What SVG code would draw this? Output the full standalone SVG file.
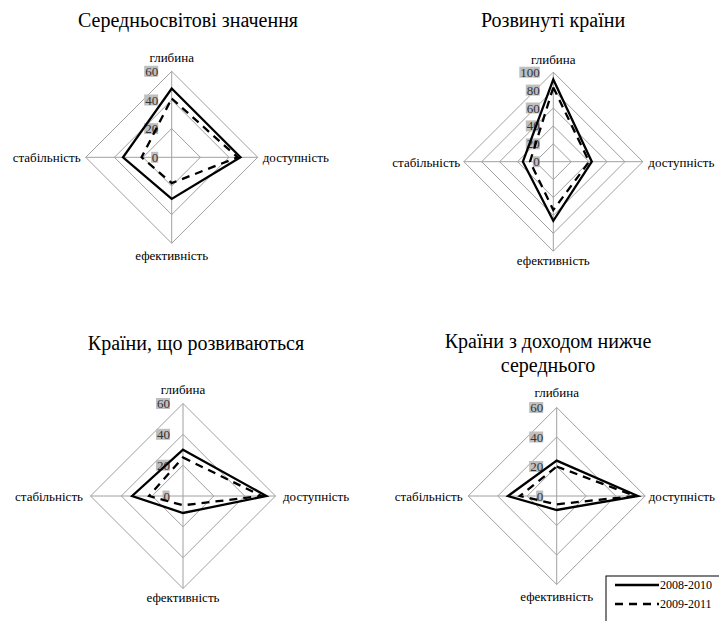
<svg xmlns="http://www.w3.org/2000/svg" width="719" height="621" viewBox="0 0 719 621" font-family="Liberation Serif">
<style>
.title{font-size:20px;text-anchor:middle}
.ax{font-size:13px}
.mid{text-anchor:middle}
.end{text-anchor:end}
.tk{font-size:13px;text-anchor:end;fill:#333}
.tb{fill:#bfbfbf}
.grid{fill:none;stroke:#a0a0a0;stroke-width:1}
.spoke{stroke:#a0a0a0;stroke-width:1}
.s1{fill:none;stroke:#000;stroke-width:2.3;stroke-linejoin:miter}
.s2{fill:none;stroke:#000;stroke-width:2.3;stroke-dasharray:8,6}
.leg{font-size:12px}
</style>
<rect width="719" height="621" fill="#fff"/>

<g id="chart1" font-family="Liberation Serif">
<text class="title" font-family="Liberation Serif" x="188" y="27">Середньосвітові значення</text>
<g transform="translate(171.7,157.3)">
<polygon class="grid" points="0,-28.7 28.7,0 0,28.7 -28.7,0"/>
<polygon class="grid" points="0,-57.3 57.3,0 0,57.3 -57.3,0"/>
<polygon class="grid" points="0,-86 86,0 0,86 -86,0"/>
<line class="spoke" x1="0" y1="-86" x2="0" y2="86"/>
<line class="spoke" x1="-86" y1="0" x2="86" y2="0"/>
<rect class="tb" x="-20.5" y="-5.5" width="7" height="11"/>
<rect class="tb" x="-27.5" y="-34.2" width="14" height="11"/>
<rect class="tb" x="-27.5" y="-62.8" width="14" height="11"/>
<rect class="tb" x="-27.5" y="-91.5" width="14" height="11"/>
<text class="tk" font-family="Liberation Serif" x="-13.5" y="4.5">0</text>
<text class="tk" font-family="Liberation Serif" x="-13.5" y="-24.2">20</text>
<text class="tk" font-family="Liberation Serif" x="-13.5" y="-52.8">40</text>
<text class="tk" font-family="Liberation Serif" x="-13.5" y="-81.5">60</text>
<polygon class="s1" points="0,-68.8 68.8,0 0,41.6 -48.7,0"/>
<polygon class="s2" points="0,-58.8 65.9,0 0,25.8 -30.1,0"/>
<text class="ax mid" font-family="Liberation Serif" x="0" y="-95">глибина</text>
<text class="ax" font-family="Liberation Serif" x="91" y="5">доступність</text>
<text class="ax mid" font-family="Liberation Serif" x="0" y="103">ефективність</text>
<text class="ax end" font-family="Liberation Serif" x="-91" y="5">стабільність</text>
</g>
</g>

<g id="chart2" font-family="Liberation Serif">
<text class="title" font-family="Liberation Serif" x="553" y="27">Розвинуті країни</text>
<g transform="translate(553.3,161.7)">
<polygon class="grid" points="0,-17.9 17.9,0 0,17.9 -17.9,0"/>
<polygon class="grid" points="0,-35.8 35.8,0 0,35.8 -35.8,0"/>
<polygon class="grid" points="0,-53.7 53.7,0 0,53.7 -53.7,0"/>
<polygon class="grid" points="0,-71.6 71.6,0 0,71.6 -71.6,0"/>
<polygon class="grid" points="0,-89.5 89.5,0 0,89.5 -89.5,0"/>
<line class="spoke" x1="0" y1="-89.5" x2="0" y2="89.5"/>
<line class="spoke" x1="-89.5" y1="0" x2="89.5" y2="0"/>
<rect class="tb" x="-20.5" y="-5.5" width="7" height="11"/>
<rect class="tb" x="-27.5" y="-23.4" width="14" height="11"/>
<rect class="tb" x="-27.5" y="-41.3" width="14" height="11"/>
<rect class="tb" x="-27.5" y="-59.2" width="14" height="11"/>
<rect class="tb" x="-27.5" y="-77.1" width="14" height="11"/>
<rect class="tb" x="-34" y="-95" width="20.5" height="11"/>
<text class="tk" font-family="Liberation Serif" x="-13.5" y="4.5">0</text>
<text class="tk" font-family="Liberation Serif" x="-13.5" y="-13.4">20</text>
<text class="tk" font-family="Liberation Serif" x="-13.5" y="-31.3">40</text>
<text class="tk" font-family="Liberation Serif" x="-13.5" y="-49.2">60</text>
<text class="tk" font-family="Liberation Serif" x="-13.5" y="-67.1">80</text>
<text class="tk" font-family="Liberation Serif" x="-13.5" y="-85">100</text>
<polygon class="s1" points="0,-82.3 38.5,0 0,59.1 -30.4,0"/>
<polygon class="s2" points="0,-74.3 35.8,0 0,48.3 -23.3,0"/>
<text class="ax mid" font-family="Liberation Serif" x="0" y="-98">глибина</text>
<text class="ax" font-family="Liberation Serif" x="95" y="5">доступність</text>
<text class="ax mid" font-family="Liberation Serif" x="0" y="103">ефективність</text>
<text class="ax end" font-family="Liberation Serif" x="-93" y="5">стабільність</text>
</g>
</g>

<g id="chart3" font-family="Liberation Serif">
<text class="title" font-family="Liberation Serif" x="196" y="350">Країни, що розвиваються</text>
<g transform="translate(183,496)">
<polygon class="grid" points="0,-30.8 30.8,0 0,30.8 -30.8,0"/>
<polygon class="grid" points="0,-61.7 61.7,0 0,61.7 -61.7,0"/>
<polygon class="grid" points="0,-92.5 92.5,0 0,92.5 -92.5,0"/>
<line class="spoke" x1="0" y1="-92.5" x2="0" y2="92.5"/>
<line class="spoke" x1="-92.5" y1="0" x2="92.5" y2="0"/>
<rect class="tb" x="-20.5" y="-5.5" width="7" height="11"/>
<rect class="tb" x="-27" y="-36.3" width="14" height="11"/>
<rect class="tb" x="-27" y="-67.2" width="14" height="11"/>
<rect class="tb" x="-27" y="-98" width="14" height="11"/>
<text class="tk" font-family="Liberation Serif" x="-13" y="4.5">0</text>
<text class="tk" font-family="Liberation Serif" x="-13" y="-26.3">20</text>
<text class="tk" font-family="Liberation Serif" x="-13" y="-57.2">40</text>
<text class="tk" font-family="Liberation Serif" x="-13" y="-88">60</text>
<polygon class="s1" points="0,-46.3 83.3,0 0,17 -50.9,0"/>
<polygon class="s2" points="0,-38.5 78.6,0 0,9.3 -33.9,0"/>
<text class="ax mid" font-family="Liberation Serif" x="0" y="-102">глибина</text>
<text class="ax" font-family="Liberation Serif" x="100" y="5">доступність</text>
<text class="ax mid" font-family="Liberation Serif" x="0" y="106">ефективність</text>
<text class="ax end" font-family="Liberation Serif" x="-100" y="5">стабільність</text>
</g>
</g>

<g id="chart4" font-family="Liberation Serif">
<text class="title" font-family="Liberation Serif" x="548" y="348">Країни з доходом нижче</text>
<text class="title" font-family="Liberation Serif" x="548" y="372">середнього</text>
<g transform="translate(556.7,496)">
<polygon class="grid" points="0,-29.5 29.5,0 0,29.5 -29.5,0"/>
<polygon class="grid" points="0,-59 59,0 0,59 -59,0"/>
<polygon class="grid" points="0,-88.5 88.5,0 0,88.5 -88.5,0"/>
<line class="spoke" x1="0" y1="-88.5" x2="0" y2="88.5"/>
<line class="spoke" x1="-88.5" y1="0" x2="88.5" y2="0"/>
<rect class="tb" x="-20.5" y="-5.5" width="7" height="11"/>
<rect class="tb" x="-27.5" y="-35" width="14" height="11"/>
<rect class="tb" x="-27.5" y="-64.5" width="14" height="11"/>
<rect class="tb" x="-27.5" y="-94" width="14" height="11"/>
<text class="tk" font-family="Liberation Serif" x="-13.5" y="4.5">0</text>
<text class="tk" font-family="Liberation Serif" x="-13.5" y="-25">20</text>
<text class="tk" font-family="Liberation Serif" x="-13.5" y="-54.5">40</text>
<text class="tk" font-family="Liberation Serif" x="-13.5" y="-84">60</text>
<polygon class="s1" points="0,-35.4 81.1,0 0,14 -48.7,0"/>
<polygon class="s2" points="0,-29.5 78.2,0 0,8.3 -36.9,0"/>
<text class="ax mid" font-family="Liberation Serif" x="0" y="-99">глибина</text>
<text class="ax" font-family="Liberation Serif" x="92" y="5">доступність</text>
<text class="ax mid" font-family="Liberation Serif" x="0" y="105">ефективність</text>
<text class="ax end" font-family="Liberation Serif" x="-94" y="5">стабільність</text>
</g>
</g>

<g id="legend" font-family="Liberation Serif">
<rect x="606" y="576" width="120" height="60" fill="#fff" stroke="#000" stroke-width="1"/>
<line x1="615" y1="585" x2="659" y2="585" stroke="#000" stroke-width="2.3"/>
<text class="leg" font-family="Liberation Serif" x="660" y="589">2008-2010</text>
<line x1="615" y1="604" x2="659" y2="604" stroke="#000" stroke-width="2.3" stroke-dasharray="8,6"/>
<text class="leg" font-family="Liberation Serif" x="660" y="608">2009-2011</text>
</g>
<g id="connectors"></g>
</svg>
